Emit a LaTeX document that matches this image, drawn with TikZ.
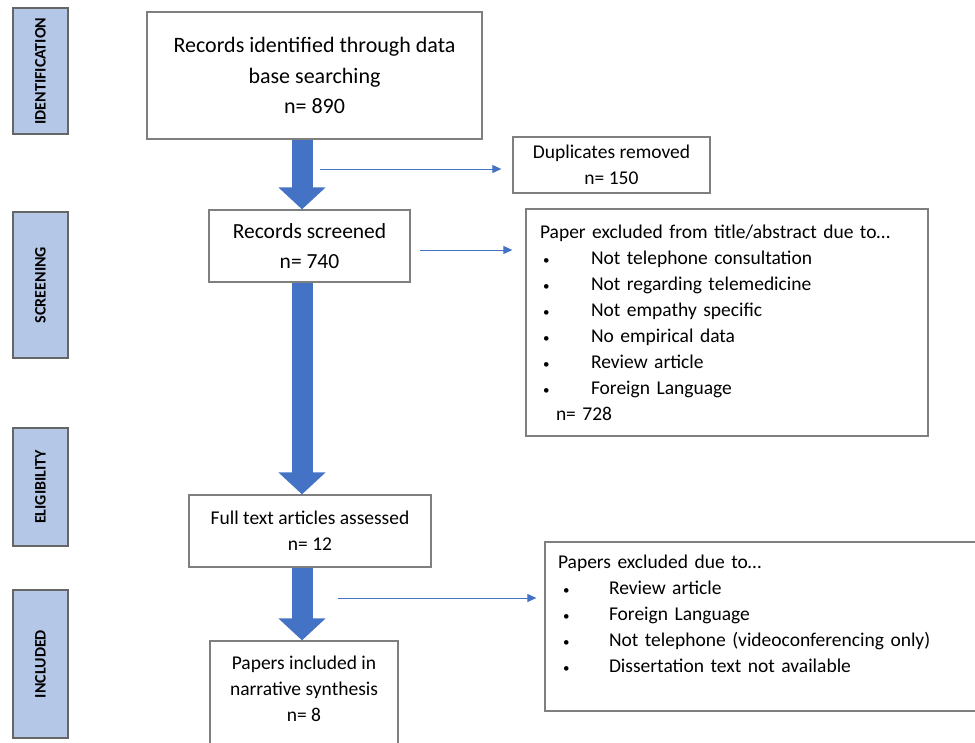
\documentclass[tikz,border=0pt]{standalone}
\usepackage{fontspec}
\setmainfont{Carlito}
\usetikzlibrary{arrows.meta}
\definecolor{flowblue}{HTML}{4472C4}
\definecolor{phasefill}{HTML}{B4C7E7}
\definecolor{boxgray}{HTML}{7F7F7F}
\newcommand{\dotitem}[2]{\hspace*{#1}\makebox[#2][l]{\fontsize{13}{13}\selectfont•}}

\begin{document}
\begin{tikzpicture}[x=1pt, y=-1pt,
        box/.style={draw=boxgray, line width=1.3pt, fill=white, inner sep=0pt, align=center, text=black, font=\fontsize{19.5}{26}\selectfont},
        listbox/.style={box, align=left, inner xsep=14pt, text width=#1},
        phase/.style={draw=black!60, line width=1.3pt, fill=phasefill, rotate=90, minimum height=55pt, text=black, font=\bfseries\fontsize{16}{19}\selectfont},
        bigarrow/.style={flowblue, line width=21pt, -{Triangle[length=22pt, width=46pt]}},
        thinarrow/.style={flowblue, line width=1pt, -{Triangle[length=9pt, width=8pt]}}]
        \path[use as bounding box, fill=white] (0, 0) rectangle (975, 742);
        \clip (0, 0) rectangle (975, 742);

        \node (7) at (40.5, 71)[phase, minimum width=126pt] {IDENTIFICATION};
        \node (8) at (40.5, 285)[phase, minimum width=146pt] {SCREENING};
        \node (9) at (40.5, 487)[phase, minimum width=118pt] {ELIGIBILITY};
        \node (10) at (40.5, 664)[phase, minimum width=148pt] {INCLUDED};

        \node (0) at (314.5, 75.5)[box, minimum width=335pt, minimum height=127pt, font=\fontsize{22}{26}\selectfont] {Records identified through data\\[4.5pt] base searching\\[4.5pt] n= 890};
        \node (1) at (309.5, 246)[box, minimum width=201pt, minimum height=72pt, font=\fontsize{21.5}{26}\selectfont] {Records screened\\[4pt] n= 740};
        \node (2) at (310, 531)[box, minimum width=242pt, minimum height=72pt] {Full text articles assessed\\ n= 12};
        \node (3) at (304, 701.5)[box, minimum width=188pt, minimum height=121pt] {Papers included in\\ narrative synthesis\\ n= 8\\ \mbox{}};

        \node (4) at (611.5, 165)[box, minimum width=197pt, minimum height=56pt] {Duplicates removed\\ n= 150};
        \node (5) at (727, 322.5)[listbox=374pt, minimum height=227pt] {Paper excluded from title/abstract due to…\\
                \dotitem{3pt}{48pt}Not telephone consultation\\
                \dotitem{3pt}{48pt}Not regarding telemedicine\\
                \dotitem{3pt}{48pt}Not empathy specific\\
                \dotitem{3pt}{48pt}No empirical data\\
                \dotitem{3pt}{48pt}Review article\\
                \dotitem{3pt}{48pt}Foreign Language\\
                \hspace*{16pt}n= 728};
        \node (6) at (767.5, 626.5)[listbox=419pt, inner xsep=13pt, minimum height=169pt] {Papers excluded due to…\\
                \dotitem{5pt}{46pt}Review article\\
                \dotitem{5pt}{46pt}Foreign Language\\
                \dotitem{5pt}{46pt}Not telephone (videoconferencing only)\\
                \dotitem{5pt}{46pt}Dissertation text not available\\ \mbox{}};

        \coordinate (axis) at (302, 0);
        \draw[bigarrow] (0.south -| axis) -- (1.north -| axis);
        \draw[bigarrow] (1.south -| axis) -- (2.north -| axis);
        \draw[bigarrow] (2.south -| axis) -- (3.north -| axis);

        \coordinate (a) at (320, 169);
        \coordinate (b) at (420, 250);
        \coordinate (c) at (338, 598);
        \draw[thinarrow, shorten >=11pt] (a) -- (a -| 4.west);
        \draw[thinarrow, shorten >=13pt] (b) -- (b -| 5.west);
        \draw[thinarrow, shorten >=8pt] (c) -- (c -| 6.west);
    \end{tikzpicture}
\end{document}
